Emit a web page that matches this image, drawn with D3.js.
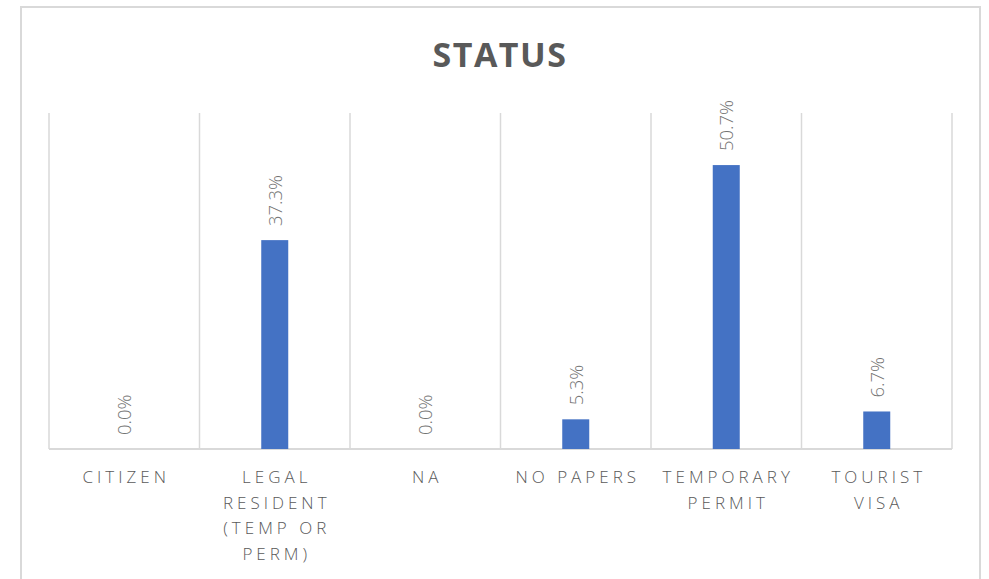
<!DOCTYPE html>
<html>
<head>
<meta charset="utf-8">
<script src="https://cdn.jsdelivr.net/npm/d3@7"></script>
<style>
  body { margin: 0; background: #fff; }
  text { font-family: "Open Sans", "Segoe UI", sans-serif; }
</style>
</head>
<body>
<div id="chart"></div>
<script>
var width = 989
var height = 579

// data
var categories = ["CITIZEN", "LEGAL RESIDENT (TEMP OR PERM)", "NA", "NO PAPERS", "TEMPORARY PERMIT", "TOURIST VISA"]
var values = [0.0, 37.3, 0.0, 5.3, 50.7, 6.7]
var yDomain = [0, 60]

var plot = {left: 49, right: 952, top: 113, bottom: 449}

var x = d3.scaleBand().domain(categories).range([plot.left, plot.right]).paddingInner(0).paddingOuter(0)
var y = d3.scaleLinear().domain(yDomain).range([plot.bottom, plot.top])
var f = d3.format(".1f")

var svg = d3.select("#chart").append("svg")
    .attr("width", width)
    .attr("height", height)

// outer chart border
svg.append("rect")
    .attr("x", 21).attr("y", 7)
    .attr("width", 959).attr("height", 600)
    .attr("fill", "#fff")
    .attr("stroke", "#d9d9d9")
    .attr("stroke-width", 2)

svg.append("text")
    .attr("x", 500)
    .attr("y", 67)
    .attr("text-anchor", "middle")
    .attr("fill", "#595959")
    .style("font-size", "34px")
    .style("font-weight", "bold")
    .style("letter-spacing", "1.5px")
    .text("STATUS")

// vertical category separators
var edges = categories.map(function(c){ return x(c); }).concat([plot.right])
svg.append("g").selectAll("line")
    .data(edges)
    .enter().append("line")
    .attr("x1", function(d){ return d; })
    .attr("x2", function(d){ return d; })
    .attr("y1", plot.top)
    .attr("y2", plot.bottom)
    .attr("stroke", "#d9d9d9")
    .attr("stroke-width", 1.5)

// baseline
svg.append("line")
    .attr("x1", plot.left).attr("x2", plot.right)
    .attr("y1", y(0)).attr("y2", y(0))
    .attr("stroke", "#d9d9d9")
    .attr("stroke-width", 2)

var barW = 27
svg.append("g").selectAll("rect")
    .data(values)
    .enter().append("rect")
    .attr("x", function(d, i){ return x(categories[i]) + x.bandwidth()/2 - barW/2; })
    .attr("y", function(d){ return y(d); })
    .attr("width", barW)
    .attr("height", function(d){ return y(0) - y(d); })
    .attr("fill", "#4472c4")

// value labels, rotated
svg.append("g").selectAll("text")
    .data(values)
    .enter().append("text")
    .attr("transform", function(d, i){
        return "translate(" + [x(categories[i]) + x.bandwidth()/2 + 7, y(d) - 14] + ") rotate(-90)";
    })
    .attr("text-anchor", "start")
    .attr("fill", "#737373")
    .style("font-size", "18.5px")
    .style("font-weight", "300")
    .text(function(d){ return f(d) + "%"; })

// category labels, wrapped to band width
var labels = svg.append("g").selectAll("text")
    .data(categories)
    .enter().append("text")
    .attr("x", function(d){ return x(d) + x.bandwidth()/2 + 2; })
    .attr("y", 483)
    .attr("text-anchor", "middle")
    .attr("fill", "#595959")
    .style("font-size", "17px")
    .style("font-weight", "300")
    .style("letter-spacing", "4px")

labels.each(function(d){
    var t = d3.select(this)
    var cx = +t.attr("x")
    var words = d.split(" ")
    var line = []
    var tspan = t.append("tspan").attr("x", cx).attr("dy", 0)
    words.forEach(function(w){
        line.push(w)
        tspan.text(line.join(" "))
        if (tspan.node().getComputedTextLength() > x.bandwidth() - 6 && line.length > 1) {
            line.pop()
            tspan.text(line.join(" "))
            line = [w]
            tspan = t.append("tspan").attr("x", cx).attr("dy", 25.5).text(w)
        }
    })
})
</script>
</body>
</html>
